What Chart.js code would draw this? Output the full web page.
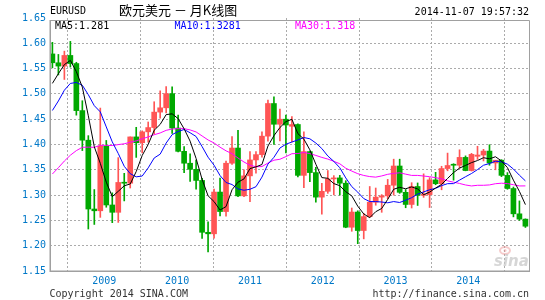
<!DOCTYPE html>
<html><head><meta charset="utf-8">
<script src="https://cdn.jsdelivr.net/npm/chart.js@4.4.1/dist/chart.umd.min.js"></script>
<style>html,body{margin:0;padding:0;background:#fff;overflow:hidden}#c{display:block}</style>
</head><body><canvas id="c" width="545" height="300"></canvas>
<script>
const months = ['2008-04','2008-05','2008-06','2008-07','2008-08','2008-09','2008-10','2008-11','2008-12',
'2009-01','2009-02','2009-03','2009-04','2009-05','2009-06','2009-07','2009-08','2009-09','2009-10','2009-11','2009-12',
'2010-01','2010-02','2010-03','2010-04','2010-05','2010-06','2010-07','2010-08','2010-09','2010-10','2010-11','2010-12',
'2011-01','2011-02','2011-03','2011-04','2011-05','2011-06','2011-07','2011-08','2011-09','2011-10','2011-11','2011-12',
'2012-01','2012-02','2012-03','2012-04','2012-05','2012-06','2012-07','2012-08','2012-09','2012-10','2012-11','2012-12',
'2013-01','2013-02','2013-03','2013-04','2013-05','2013-06','2013-07','2013-08','2013-09','2013-10','2013-11','2013-12',
'2014-01','2014-02','2014-03','2014-04','2014-05','2014-06','2014-07','2014-08','2014-09','2014-10','2014-11'];

const openP = [1.5790,1.5615,1.5550,1.5760,1.5600,1.4670,1.4085,1.2725,1.2690,
1.3970,1.2805,1.2660,1.3250,1.3235,1.4150,1.4035,1.4250,1.4335,1.4640,1.4725,1.5005,
1.4325,1.3865,1.3630,1.3510,1.3290,1.2265,1.2235,1.3060,1.2675,1.3630,1.3930,1.2985,
1.3380,1.3695,1.3800,1.4165,1.4810,1.4400,1.4500,1.4360,1.4395,1.3390,1.3860,1.3445,
1.2960,1.3075,1.3320,1.3340,1.3235,1.2365,1.2665,1.2300,1.2575,1.2860,1.2960,1.2985,
1.3195,1.3575,1.3055,1.2815,1.3170,1.2995,1.3010,1.3300,1.3225,1.3525,1.3595,1.3590,
1.3745,1.3485,1.3767,1.3792,1.3870,1.3635,1.3690,1.3390,1.3130,1.2630,1.2525];
const highP = [1.6019,1.5780,1.5845,1.6038,1.5625,1.4865,1.4175,1.3110,1.4720,
1.4080,1.3045,1.3740,1.3430,1.4150,1.4340,1.4270,1.4445,1.4845,1.5060,1.5145,1.5140,
1.4580,1.3960,1.3815,1.3690,1.3330,1.2470,1.3120,1.3335,1.3670,1.4155,1.4280,1.3500,
1.3860,1.3860,1.4250,1.4880,1.4940,1.4700,1.4580,1.4550,1.4410,1.4250,1.3870,1.3550,
1.3235,1.3485,1.3385,1.3390,1.3285,1.2745,1.2690,1.2640,1.3170,1.3140,1.3010,1.3310,
1.3710,1.3710,1.3110,1.3245,1.3240,1.3420,1.3345,1.3450,1.3570,1.3830,1.3620,1.3895,
1.3775,1.3825,1.3965,1.3905,1.3995,1.3675,1.3700,1.3445,1.3160,1.2885,1.2530];
const lowP = [1.5515,1.5375,1.5285,1.5530,1.4580,1.3880,1.2330,1.2420,1.2560,
1.2760,1.2455,1.2460,1.2885,1.3140,1.3745,1.3835,1.4045,1.4205,1.4520,1.4625,1.4220,
1.3855,1.3445,1.3270,1.3115,1.2145,1.1875,1.2150,1.2590,1.2585,1.3605,1.2970,1.2970,
1.2870,1.3435,1.3750,1.4065,1.4000,1.4070,1.3835,1.4050,1.3360,1.3145,1.3265,1.2860,
1.2625,1.3035,1.3005,1.3000,1.2355,1.2285,1.2040,1.2135,1.2560,1.2800,1.2660,1.2925,
1.3000,1.3035,1.2750,1.2745,1.2795,1.2955,1.2755,1.3205,1.3105,1.3480,1.3295,1.3530,
1.3480,1.3475,1.3705,1.3675,1.3590,1.3500,1.3365,1.3115,1.2570,1.2500,1.2360];
const closeP = [1.5615,1.5550,1.5760,1.5600,1.4670,1.4085,1.2725,1.2690,1.3970,
1.2805,1.2660,1.3250,1.3235,1.4150,1.4035,1.4250,1.4335,1.4640,1.4725,1.5005,1.4325,
1.3865,1.3630,1.3510,1.3290,1.2265,1.2235,1.3060,1.2675,1.3630,1.3930,1.2985,1.3380,
1.3695,1.3800,1.4165,1.4810,1.4400,1.4500,1.4385,1.4395,1.3390,1.3860,1.3445,1.2960,
1.3075,1.3320,1.3340,1.3235,1.2365,1.2665,1.2300,1.2575,1.2860,1.2960,1.2985,1.3195,
1.3575,1.3055,1.2815,1.3170,1.2995,1.3010,1.3300,1.3225,1.3525,1.3585,1.3590,1.3745,
1.3485,1.3805,1.3792,1.3870,1.3635,1.3690,1.3390,1.3130,1.2630,1.2525,1.2385];

const ma5 = [1.5208,1.5400,1.5579,1.5662,1.5439,1.5133,1.4568,1.3954,1.3628,1.3255,
1.2970,1.3075,1.3184,1.3220,1.3466,1.3784,1.4001,1.4282,1.4397,1.4591,
1.4606,1.4512,1.4310,1.4067,1.3724,1.3312,1.2986,1.2872,1.2705,1.2773,
1.3106,1.3256,1.3320,1.3524,1.3558,1.3605,1.3970,1.4174,1.4335,1.4452,
1.4498,1.4214,1.4106,1.3895,1.3610,1.3346,1.3332,1.3228,1.3186,1.3067,
1.2985,1.2781,1.2628,1.2553,1.2672,1.2736,1.2915,1.3115,1.3154,1.3125,
1.3162,1.3122,1.3009,1.3058,1.3140,1.3211,1.3329,1.3445,1.3534,1.3586,
1.3642,1.3683,1.3739,1.3717,1.3758,1.3675,1.3543,1.3295,1.3073,1.2812];
const ma10 = [1.4672,1.4860,1.5073,1.5207,1.5226,1.5171,1.4984,1.4767,1.4645,1.4347,
1.4052,1.3822,1.3569,1.3424,1.3361,1.3377,1.3538,1.3733,1.3809,1.4029,
1.4195,1.4257,1.4296,1.4232,1.4158,1.3959,1.3749,1.3591,1.3386,1.3249,
1.3209,1.3121,1.3096,1.3115,1.3166,1.3356,1.3613,1.3747,1.3930,1.4005,
1.4049,1.4090,1.4138,1.4113,1.4029,1.3920,1.3773,1.3667,1.3541,1.3339,
1.3168,1.3059,1.2931,1.2872,1.2872,1.2863,1.2848,1.2872,1.2854,1.2899,
1.2949,1.3019,1.3062,1.3106,1.3133,1.3187,1.3226,1.3227,1.3296,1.3363,
1.3427,1.3504,1.3590,1.3624,1.3670,1.3657,1.3611,1.3515,1.3393,1.3281];
const ma30 = [1.3417,1.3542,1.3673,1.3788,1.3879,1.3945,1.3948,1.3944,1.3983,1.3984,
1.3979,1.3998,1.4014,1.4044,1.4072,1.4113,1.4150,1.4193,1.4228,1.4280,
1.4306,1.4313,1.4313,1.4288,1.4248,1.4169,1.4090,1.4030,1.3947,1.3875,
1.3819,1.3733,1.3654,1.3590,1.3561,1.3564,1.3633,1.3690,1.3708,1.3761,
1.3818,1.3822,1.3843,1.3820,1.3784,1.3745,1.3712,1.3668,1.3619,1.3531,
1.3475,1.3423,1.3388,1.3366,1.3355,1.3379,1.3411,1.3429,1.3441,1.3414,
1.3389,1.3389,1.3377,1.3364,1.3344,1.3323,1.3282,1.3255,1.3230,1.3200,
1.3181,1.3194,1.3194,1.3201,1.3225,1.3235,1.3228,1.3205,1.3181,1.3182];

const yTickValues = [1.15,1.20,1.25,1.30,1.35,1.40,1.45,1.50,1.55,1.60,1.65];
const yearLabels = ['2009','2010','2011','2012','2013','2014'];
const maLabels = ['MA5:1.281','MA10:1.3281','MA30:1.318'];
const titleTexts = ['EURUSD','欧元美元 － 月K线图','2014-11-07 19:57:32'];
const footerTexts = ['Copyright 2014 SINA.COM','http://finance.sina.com.cn'];
const watermarkText = 'sina';

const UP = '#FF5555', DOWN = '#00A800';
const BLUE = '#0078C8', GRIDC = '#ABABAB', FRAME = '#A0A0A0';
const MONO = '"DejaVu Sans Mono", monospace';
const GRID_FIRST = 8.67, GRID_STEP = 12.16;

const idx = months.map((m, i) => i);
const candleColors = idx.map(i => closeP[i] >= openP[i] ? UP : DOWN);
const wickData = idx.map(i => ({x: i, y: [lowP[i], highP[i]]}));
const bodyData = idx.map(i => ({x: i, y: [openP[i], closeP[i]]}));
const asLine = arr => idx.map(i => ({x: i, y: arr[i]}));

const decor = {
  id: 'decor',
  beforeDatasetsDraw(chart) {
    const c = chart.ctx;
    c.save();
    c.strokeStyle = 'rgba(235,140,140,0.45)';
    c.lineWidth = 2;
    c.beginPath(); c.ellipse(505, 250.5, 5, 3.5, 0, 0, Math.PI * 2); c.stroke();
    c.fillStyle = 'rgba(235,140,140,0.45)';
    c.beginPath(); c.arc(505, 250.5, 1.5, 0, Math.PI * 2); c.fill();
    c.fillStyle = 'rgba(200,200,200,0.75)';
    c.font = 'italic bold 15px "DejaVu Sans"';
    c.textAlign = 'left'; c.textBaseline = 'alphabetic';
    c.fillText(watermarkText, 494, 266);
    c.restore();
  },
  afterDraw(chart) {
    const c = chart.ctx, a = chart.chartArea;
    c.save();
    c.strokeStyle = FRAME;
    c.lineWidth = 1;
    c.beginPath(); c.moveTo(a.left, 20.5); c.lineTo(a.right + 0.5, 20.5); c.lineTo(a.right + 0.5, a.bottom); c.stroke();
    c.lineWidth = 1.5;
    c.beginPath(); c.moveTo(a.left + 0.25, 20); c.lineTo(a.left + 0.25, a.bottom + 0.25); c.lineTo(a.right + 1, a.bottom + 0.25); c.stroke();

    c.textBaseline = 'alphabetic';
    c.fillStyle = '#000';
    c.font = '10px ' + MONO;
    c.textAlign = 'left'; c.fillText(titleTexts[0], 50, 14);
    c.textAlign = 'right'; c.fillText(titleTexts[2], 529, 15);
    c.font = '13px "Noto Sans CJK SC"';
    c.textAlign = 'left'; c.fillText(titleTexts[1], 119, 15);

    c.font = '10px ' + MONO;
    const lx = [55, 174.5, 295], lc = ['#000000', '#0000FF', '#FF00FF'];
    maLabels.forEach((t, k) => { c.fillStyle = lc[k]; c.fillText(t, lx[k], 28.5); });

    c.fillStyle = '#333333';
    c.textAlign = 'left'; c.fillText(footerTexts[0], 49.5, 296.5);
    c.textAlign = 'right'; c.fillText(footerTexts[1], 529, 296.5);
    c.restore();
  }
};

new Chart(document.getElementById('c').getContext('2d'), {
  type: 'bar',
  data: {
    datasets: [
      {type: 'line', label: 'MA5', data: asLine(ma5), borderColor: '#000000', borderWidth: 1, pointRadius: 0, tension: 0, order: 0},
      {type: 'line', label: 'MA10', data: asLine(ma10), borderColor: '#0000FF', borderWidth: 1, pointRadius: 0, tension: 0, order: 0},
      {type: 'line', label: 'MA30', data: asLine(ma30), borderColor: '#FF00FF', borderWidth: 1, pointRadius: 0, tension: 0, order: 0},
      {type: 'bar', label: 'body', data: bodyData, backgroundColor: candleColors, borderWidth: 0, barThickness: 5, grouped: false, minBarLength: 1, order: 1},
      {type: 'bar', label: 'wick', data: wickData, backgroundColor: candleColors, borderWidth: 0, barThickness: 1, grouped: false, order: 2}
    ]
  },
  options: {
    responsive: false, animation: false, devicePixelRatio: 1,
    layout: {padding: {left: 0, right: 16, top: 18, bottom: 0}, autoPadding: false},
    plugins: {legend: {display: false}, tooltip: {enabled: false}},
    scales: {
      x: {
        type: 'linear', min: -0.4, max: 79.6, offset: false,
        afterBuildTicks: s => { s.ticks = yearLabels.map((y, k) => ({value: GRID_FIRST + k * GRID_STEP})); },
        afterFit: s => { s.height = 29; s.paddingLeft = 0; s.paddingRight = 0; },
        ticks: {autoSkip: false, maxRotation: 0, minRotation: 0, padding: 4, color: BLUE,
                font: {family: MONO, size: 10}, callback: (v, i) => yearLabels[i]},
        grid: {color: GRIDC, lineWidth: 1, drawTicks: false},
        border: {display: false, dash: [2, 2]}
      },
      y: {
        type: 'linear', min: 1.15, max: 1.65,
        afterBuildTicks: s => { s.ticks = yTickValues.map(v => ({value: v})); },
        afterFit: s => { s.width = 50; s.paddingTop = 0; s.paddingBottom = 0; },
        ticks: {padding: 4, color: BLUE, font: {family: MONO, size: 10}, callback: v => Number(v).toFixed(2)},
        grid: {color: c => (c.tick && (c.tick.value < 1.1501 || c.tick.value > 1.6499)) ? 'rgba(0,0,0,0)' : GRIDC,
               lineWidth: 1, drawTicks: false},
        border: {display: false, dash: [2, 2]}
      }
    }
  },
  plugins: [decor]
});
</script>
</body></html>
